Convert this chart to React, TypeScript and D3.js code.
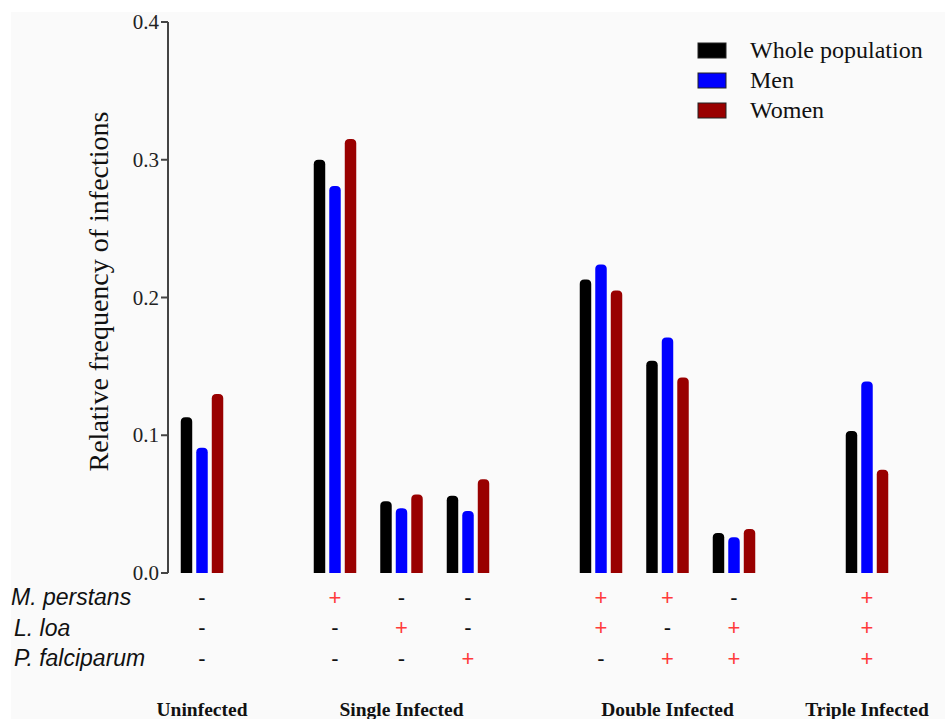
import React from 'react';
import * as d3 from 'd3';

const WIDTH = 945;
const HEIGHT = 719;

const series = ['Whole population', 'Men', 'Women'];
const colors = ['#000000', '#0000ff', '#990000'];

// slot index of each bar cluster along the x axis (gaps separate the groups)
const slots = [0, 2, 3, 4, 6, 7, 8, 10];
const wholePopulation = [0.113, 0.3, 0.052, 0.056, 0.213, 0.154, 0.029, 0.103];
const men = [0.091, 0.281, 0.047, 0.045, 0.224, 0.171, 0.026, 0.139];
const women = [0.13, 0.315, 0.057, 0.068, 0.205, 0.142, 0.032, 0.075];

const species = ['M. perstans', 'L. loa', 'P. falciparum'];
const mPerstans = ['-', '+', '-', '-', '+', '+', '-', '+'];
const lLoa = ['-', '-', '+', '-', '+', '-', '+', '+'];
const pFalciparum = ['-', '-', '-', '+', '-', '+', '+', '+'];

const groupLabels = ['Uninfected', 'Single Infected', 'Double Infected', 'Triple Infected'];
const groupSlots = [0, 3, 7, 10];

const yTicks = [0, 0.1, 0.2, 0.3, 0.4];

const AXIS_X = 168;
const SERIF = '"Liberation Serif", "Times New Roman", serif';
const SANS = '"Liberation Sans", Arial, sans-serif';

const barPath = (x: number, w: number, top: number, base: number, r: number) =>
  `M${x},${base}L${x},${top + r}Q${x},${top} ${x + r},${top}L${x + w - r},${top}Q${x + w},${top} ${x + w},${top + r}L${x + w},${base}Z`;

export default function App() {
  const yScale = d3.scaleLinear().domain([0, 0.4]).range([573, 22]);
  const xScale = d3.scaleLinear().domain([0, 10]).range([202, 867]);
  const inner = d3.scaleBand<string>().domain(series).range([-21.25, 21.25]).paddingInner(0.26);

  const values = [wholePopulation, men, women];
  const signs = [mPerstans, lLoa, pFalciparum];
  const rowY = [597, 627.5, 658];

  return (
    <svg
      width={WIDTH}
      height={HEIGHT}
      style={{ position: 'absolute', left: 0, top: 0, background: '#ffffff' }}
    >
      <rect x={11} y={12} width={WIDTH - 11} height={HEIGHT - 12} fill="#fafafa" />

      {/* bars */}
      {slots.map((s, i) => (
        <g key={i}>
          {series.map((name, j) => {
            const x = xScale(s) + (inner(name) ?? 0);
            const w = inner.bandwidth();
            return (
              <path
                key={name}
                d={barPath(x, w, yScale(values[j][i]), yScale(0), 4.5)}
                fill={colors[j]}
              />
            );
          })}
        </g>
      ))}

      {/* y axis */}
      <line x1={AXIS_X} x2={AXIS_X} y1={yScale(0.4)} y2={yScale(0)} stroke="#444" strokeWidth={2} />
      {yTicks.map((t) => (
        <g key={t}>
          <line x1={AXIS_X - 7} x2={AXIS_X} y1={yScale(t)} y2={yScale(t)} stroke="#444" strokeWidth={2} />
          <text
            x={AXIS_X - 9}
            y={yScale(t) + 7}
            textAnchor="end"
            fontFamily={SERIF}
            fontSize={21}
            fill="#222"
          >
            {t.toFixed(1)}
          </text>
        </g>
      ))}
      <text
        transform={`translate(108,${(110 + 473) / 2}) rotate(-90)`}
        textAnchor="middle"
        fontFamily={SERIF}
        fontSize={28}
        fill="#111"
      >
        Relative frequency of infections
      </text>

      {/* legend */}
      {series.map((name, j) => (
        <g key={name} transform={`translate(698,${43 + j * 30})`}>
          <rect x={0} y={0} width={28} height={15} fill={colors[j]} stroke="#222" strokeWidth={1} />
          <text x={52} y={15} fontFamily={SERIF} fontSize={24} fill="#111">
            {name}
          </text>
        </g>
      ))}

      {/* infection pattern table */}
      {species.map((name, r) => (
        <g key={name}>
          <text
            x={r === 0 ? 11 : 14}
            y={rowY[r] + 8}
            fontFamily={SANS}
            fontStyle="italic"
            fontSize={23}
            fill="#111"
          >
            {name}
          </text>
          {slots.map((s, i) => (
            <text
              key={i}
              x={xScale(s)}
              y={rowY[r] + 7.5}
              textAnchor="middle"
              fontFamily={SANS}
              fontSize={22}
              fill={signs[r][i] === '+' ? '#ff3b3b' : '#111'}
            >
              {signs[r][i]}
            </text>
          ))}
        </g>
      ))}

      {groupLabels.map((label, i) => (
        <text
          key={label}
          x={xScale(groupSlots[i])}
          y={716}
          textAnchor="middle"
          fontFamily={SERIF}
          fontWeight="bold"
          fontSize={19.5}
          fill="#111"
        >
          {label}
        </text>
      ))}
    </svg>
  );
}
